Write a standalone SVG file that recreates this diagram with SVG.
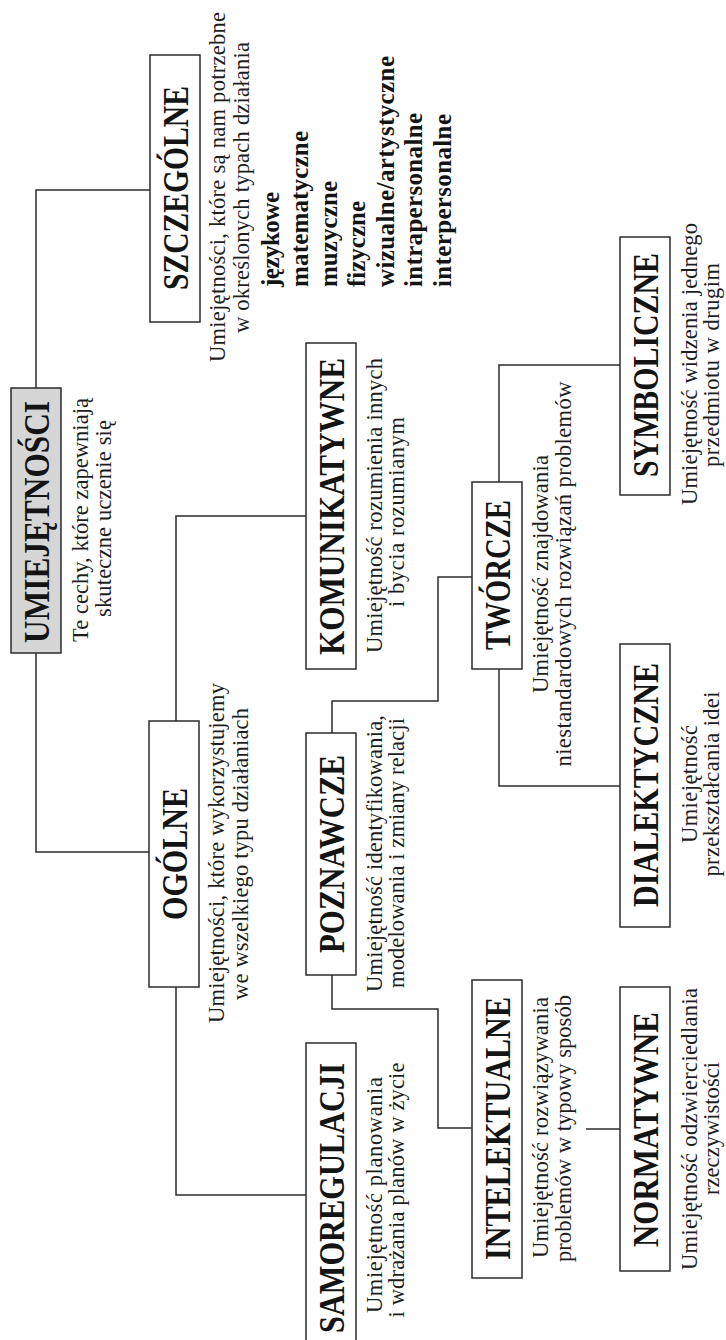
<svg xmlns="http://www.w3.org/2000/svg" width="726" height="1340" viewBox="0 0 726 1340">
  <style>
    .box { fill: #ffffff; stroke: #2b2b2b; stroke-width: 1.5; }
    .root { fill: #d6d6d6; }
    .link { fill: none; stroke: #2b2b2b; stroke-width: 1.5; }
    .title { font-family: "Liberation Serif", "Times New Roman", serif; font-weight: bold; font-size: 35px; fill: #141414; text-anchor: middle; }
    .desc { font-family: "Liberation Serif", "Times New Roman", serif; font-size: 22.5px; fill: #1e1e1e; text-anchor: middle; }
    .item { font-family: "Liberation Serif", "Times New Roman", serif; font-weight: bold; font-size: 25px; fill: #141414; text-anchor: start; }
  </style>
  <rect width="726" height="1340" fill="#ffffff"/>

  <!-- connectors (drawn first, boxes sit on top) -->
  <g id="connectors" class="link">
    <polyline points="36,388 36,190 150,190"/>
    <polyline points="36,653 36,852 149,852"/>
    <polyline points="176,721 176,516 306,516"/>
    <polyline points="176,987 176,1195 306,1195"/>
    <polyline points="332,733 332,701 438,701 438,577 472,577"/>
    <polyline points="332,975 332,1009 438,1009 438,1128 472,1128"/>
    <polyline points="499,482 499,365 620,365"/>
    <polyline points="499,669 499,786 620,786"/>
    <polyline points="586,1129 620,1129"/>
  </g>

  <!-- all labels read bottom-to-top: translate to anchor, then rotate -90 -->
  <g id="umiejetnosci">
    <rect class="box root" x="11" y="388" width="50" height="265"/>
    <text class="title" transform="translate(48.5,522) rotate(-90)" textLength="242" lengthAdjust="spacingAndGlyphs">UMIEJĘTNOŚCI</text>
    <text class="desc" transform="translate(88,520) rotate(-90)" textLength="244">Te cechy, które zapewniają</text>
    <text class="desc" transform="translate(111,518.5) rotate(-90)" textLength="197">skuteczne uczenie się</text>
  </g>

  <g id="szczegolne">
    <rect class="box" x="150" y="55" width="50" height="267"/>
    <text class="title" transform="translate(188,188) rotate(-90)" textLength="204" lengthAdjust="spacingAndGlyphs">SZCZEGÓLNE</text>
    <text class="desc" transform="translate(225,187) rotate(-90)" textLength="350">Umiejętności, które są nam potrzebne</text>
    <text class="desc" transform="translate(249,187.5) rotate(-90)" textLength="291">w określonych typach działania</text>
    <text class="item" transform="translate(279,287) rotate(-90)" textLength="95">językowe</text>
    <text class="item" transform="translate(308,287) rotate(-90)" textLength="156">matematyczne</text>
    <text class="item" transform="translate(337,287) rotate(-90)" textLength="106">muzyczne</text>
    <text class="item" transform="translate(365,287) rotate(-90)" textLength="86">fizyczne</text>
    <text class="item" transform="translate(394,287) rotate(-90)" textLength="231">wizualne/artystyczne</text>
    <text class="item" transform="translate(422,287) rotate(-90)" textLength="174">intrapersonalne</text>
    <text class="item" transform="translate(451,287) rotate(-90)" textLength="173">interpersonalne</text>
  </g>

  <g id="ogolne">
    <rect class="box" x="149" y="721" width="50" height="266"/>
    <text class="title" transform="translate(186.5,854) rotate(-90)" textLength="132" lengthAdjust="spacingAndGlyphs">OGÓLNE</text>
    <text class="desc" transform="translate(224,853) rotate(-90)" textLength="340">Umiejętności, które wykorzystujemy</text>
    <text class="desc" transform="translate(248,854) rotate(-90)" textLength="292">we wszelkiego typu działaniach</text>
  </g>

  <g id="komunikatywne">
    <rect class="box" x="306" y="343" width="50" height="326"/>
    <text class="title" transform="translate(343.5,506.5) rotate(-90)" textLength="297" lengthAdjust="spacingAndGlyphs">KOMUNIKATYWNE</text>
    <text class="desc" transform="translate(382,505.5) rotate(-90)" textLength="295">Umiejętność rozumienia innych</text>
    <text class="desc" transform="translate(404,512) rotate(-90)" textLength="190">i bycia rozumianym</text>
  </g>

  <g id="poznawcze">
    <rect class="box" x="306" y="733" width="50" height="242"/>
    <text class="title" transform="translate(343.5,854) rotate(-90)" textLength="198" lengthAdjust="spacingAndGlyphs">POZNAWCZE</text>
    <text class="desc" transform="translate(382,853.5) rotate(-90)" textLength="277">Umiejętność identyfikowania,</text>
    <text class="desc" transform="translate(404,853) rotate(-90)" textLength="270">modelowania i zmiany relacji</text>
  </g>

  <g id="samoregulacji">
    <rect class="box" x="306" y="1043" width="50" height="304"/>
    <text class="title" transform="translate(343.5,1198) rotate(-90)" textLength="270" lengthAdjust="spacingAndGlyphs">SAMOREGULACJI</text>
    <text class="desc" transform="translate(382,1195) rotate(-90)" textLength="236">Umiejętność planowania</text>
    <text class="desc" transform="translate(404,1190) rotate(-90)" textLength="255">i wdrażania planów w życie</text>
  </g>

  <g id="tworcze">
    <rect class="box" x="472" y="482" width="50" height="187"/>
    <text class="title" transform="translate(509.5,575) rotate(-90)" textLength="150" lengthAdjust="spacingAndGlyphs">TWÓRCZE</text>
    <text class="desc" transform="translate(548,574) rotate(-90)" textLength="238">Umiejętność znajdowania</text>
    <text class="desc" transform="translate(571,574) rotate(-90)" textLength="385">niestandardowych rozwiązań problemów</text>
  </g>

  <g id="intelektualne">
    <rect class="box" x="472" y="980" width="50" height="298"/>
    <text class="title" transform="translate(509.5,1128.5) rotate(-90)" textLength="263" lengthAdjust="spacingAndGlyphs">INTELEKTUALNE</text>
    <text class="desc" transform="translate(548,1127.5) rotate(-90)" textLength="261">Umiejętność rozwiązywania</text>
    <text class="desc" transform="translate(571,1128.5) rotate(-90)" textLength="267">problemów w typowy sposób</text>
  </g>

  <g id="symboliczne">
    <rect class="box" x="620" y="237" width="50" height="258"/>
    <text class="title" transform="translate(657.5,365) rotate(-90)" textLength="224" lengthAdjust="spacingAndGlyphs">SYMBOLICZNE</text>
    <text class="desc" transform="translate(697,364) rotate(-90)" textLength="282">Umiejętność widzenia jednego</text>
    <text class="desc" transform="translate(719,365) rotate(-90)" textLength="204">przedmiotu w drugim</text>
  </g>

  <g id="dialektyczne">
    <rect class="box" x="620" y="644" width="50" height="283"/>
    <text class="title" transform="translate(657.5,785) rotate(-90)" textLength="244" lengthAdjust="spacingAndGlyphs">DIALEKTYCZNE</text>
    <text class="desc" transform="translate(697,784) rotate(-90)" textLength="118">Umiejętność</text>
    <text class="desc" transform="translate(719,784) rotate(-90)" textLength="185">przekształcania idei</text>
  </g>

  <g id="normatywne">
    <rect class="box" x="620" y="987" width="50" height="284"/>
    <text class="title" transform="translate(657.5,1129.5) rotate(-90)" textLength="235" lengthAdjust="spacingAndGlyphs">NORMATYWNE</text>
    <text class="desc" transform="translate(697,1129) rotate(-90)" textLength="282">Umiejętność odzwierciedlania</text>
    <text class="desc" transform="translate(719,1128.5) rotate(-90)" textLength="133">rzeczywistości</text>
  </g>
</svg>
